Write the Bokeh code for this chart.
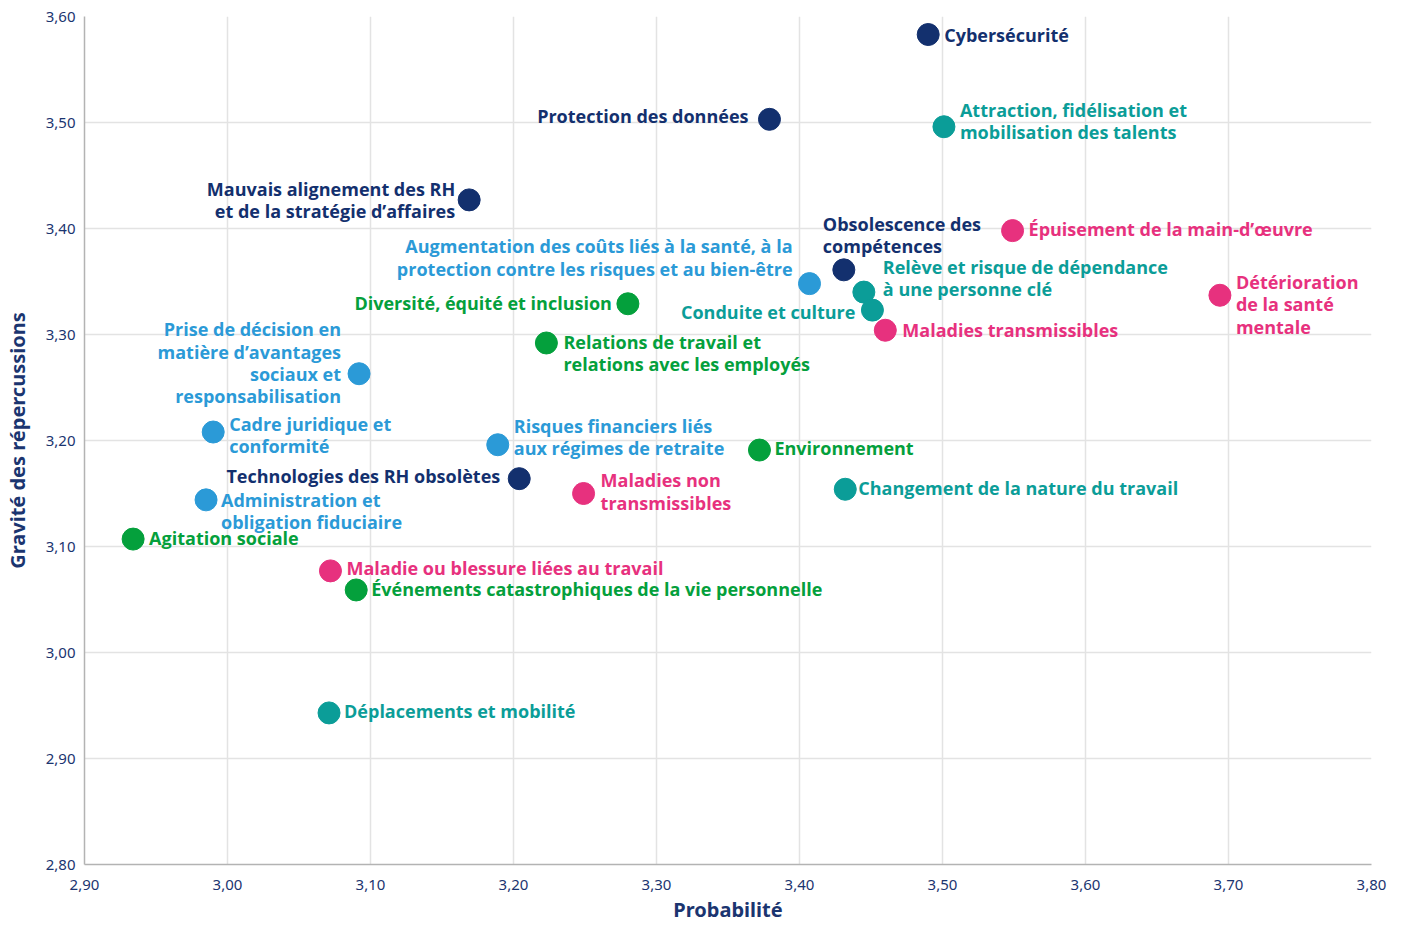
from bokeh.plotting import figure
from bokeh.models import ColumnDataSource, FixedTicker
from bokeh.core.properties import value
from bokeh.embed import file_html
from bokeh.resources import INLINE

# ---------------- data ----------------
names = [
    "Cybersécurité",
    "Protection des données",
    "Attraction, fidélisation et\nmobilisation des talents",
    "Mauvais alignement des RH\net de la stratégie d’affaires",
    "Épuisement de la main-d’œuvre",
    "Obsolescence des\ncompétences",
    "Augmentation des coûts liés à la santé, à la\nprotection contre les risques et au bien-être",
    "Relève et risque de dépendance\nà une personne clé",
    "Conduite et culture",
    "Détérioration\nde la santé\nmentale",
    "Maladies transmissibles",
    "Diversité, équité et inclusion",
    "Relations de travail et\nrelations avec les employés",
    "Prise de décision en\nmatière d’avantages\nsociaux et\nresponsabilisation",
    "Cadre juridique et\nconformité",
    "Risques financiers liés\naux régimes de retraite",
    "Environnement",
    "Technologies des RH obsolètes",
    "Maladies non\ntransmissibles",
    "Changement de la nature du travail",
    "Administration et\nobligation fiduciaire",
    "Agitation sociale",
    "Maladie ou blessure liées au travail",
    "Événements catastrophiques de la vie personnelle",
    "Déplacements et mobilité",
]
probabilite = [3.490, 3.379, 3.501, 3.169, 3.549, 3.431, 3.407, 3.445, 3.451, 3.694,
               3.460, 3.280, 3.223, 3.092, 2.990, 3.189, 3.372, 3.204, 3.249, 3.432,
               2.985, 2.934, 3.072, 3.090, 3.071]
gravite = [3.583, 3.503, 3.496, 3.427, 3.398, 3.361, 3.348, 3.340, 3.323, 3.337,
           3.304, 3.329, 3.292, 3.263, 3.208, 3.196, 3.191, 3.164, 3.150, 3.154,
           3.144, 3.107, 3.077, 3.059, 2.943]
groupes = ["navy", "navy", "teal", "navy", "pink", "navy", "blue", "teal", "teal", "pink",
           "pink", "green", "green", "blue", "blue", "blue", "green", "navy", "pink", "teal",
           "blue", "green", "pink", "green", "teal"]

x_ticks = [2.9, 3.0, 3.1, 3.2, 3.3, 3.4, 3.5, 3.6, 3.7, 3.8]
x_tick_labels = ["2,90", "3,00", "3,10", "3,20", "3,30", "3,40", "3,50", "3,60", "3,70", "3,80"]
y_ticks = [2.8, 2.9, 3.0, 3.1, 3.2, 3.3, 3.4, 3.5, 3.6]
y_tick_labels = ["2,80", "2,90", "3,00", "3,10", "3,20", "3,30", "3,40", "3,50", "3,60"]

# ---------------- styles / layout ----------------
palette = {
    "navy": "#13306e",
    "blue": "#2b9ad7",
    "teal": "#0b9d98",
    "green": "#04a03c",
    "pink": "#e7317e",
}
# label placement: (align, x_offset px, y_offset px)
placement = [
    ("left", 16, 0), ("right", -21, -3), ("left", 16, -6), ("right", -14, 0),
    ("left", 16, -2), ("left", -21, -35), ("right", -17, -26), ("left", 19, -14),
    ("right", -17, 2), ("left", 16, 9), ("left", 17, 0), ("right", -16, -1),
    ("left", 17, 10), ("right", -18, -11), ("left", 16, 3), ("left", 16, -8),
    ("left", 15, -2), ("right", -19, -3), ("left", 17, -2), ("left", 13, -1),
    ("left", 15, 11), ("left", 16, -1), ("left", 16, -3), ("left", 15, -1),
    ("left", 15, -2),
]

src = ColumnDataSource(dict(
    x=probabilite, y=gravite, name=names,
    color=[palette[g] for g in groupes],
    align=[p[0] for p in placement],
    dx=[p[1] for p in placement],
    dy=[p[2] for p in placement],
))

navy = "#1b3570"
p = figure(
    frame_width=1287, frame_height=848,
    x_range=(2.9, 3.8), y_range=(2.8, 3.6),
    output_backend="svg", toolbar_location=None,
    min_border_left=76, min_border_top=16, min_border_right=23, min_border_bottom=40,
)
p.outline_line_color = None
p.background_fill_color = "white"

p.xaxis.ticker = FixedTicker(ticks=x_ticks)
p.yaxis.ticker = FixedTicker(ticks=y_ticks)
p.xaxis.major_label_overrides = {t: l for t, l in zip(x_ticks, x_tick_labels)}
p.yaxis.major_label_overrides = {t: l for t, l in zip(y_ticks, y_tick_labels)}

for ax in (p.xaxis, p.yaxis):
    ax.axis_line_color = "#b3b3b3"
    ax.axis_line_width = 1.5
    ax.major_tick_line_color = None
    ax.minor_tick_line_color = None
    ax.major_tick_out = 0
    ax.major_tick_in = 0
    ax.minor_tick_out = 0
    ax.major_label_text_font = "Noto Sans"
    ax.major_label_text_font_size = "15px"
    ax.major_label_text_color = navy
    ax.axis_label_text_font = "Noto Sans"
    ax.axis_label_text_font_size = "20px"
    ax.axis_label_text_font_style = "bold"
    ax.axis_label_text_color = navy

p.xaxis.axis_label = "Probabilité"
p.yaxis.axis_label = "Gravité des répercussions"
p.xaxis.major_label_standoff = 15
p.xaxis.axis_label_standoff = 3
p.yaxis.major_label_standoff = 9
p.yaxis.axis_label_standoff = 12

p.xgrid.grid_line_color = "#e3e3e3"
p.ygrid.grid_line_color = "#e3e3e3"
p.xgrid.grid_line_width = 1.5
p.ygrid.grid_line_width = 1.5

p.scatter("x", "y", source=src, size=22, fill_color="color", line_color="color")
p.text("x", "y", text="name", source=src,
       text_align="align", text_baseline="middle",
       x_offset="dx", y_offset="dy",
       text_color="color", text_font=value("Open Sans"),
       text_font_size="18px", text_font_style="bold",
       text_line_height=0.93)

open("out.html", "w").write(file_html(p, INLINE))
